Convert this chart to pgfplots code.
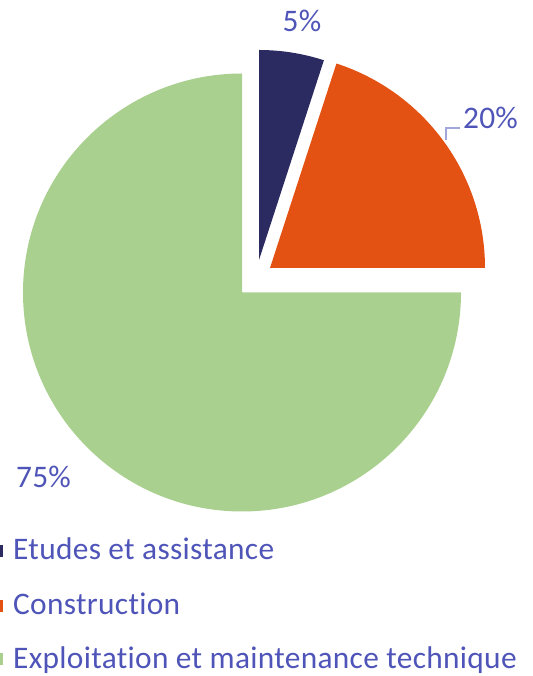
\documentclass[border=0pt]{standalone}
\usepackage{fontspec}
\setmainfont{Carlito}[Ligatures={NoCommon},LetterSpace=1.0]
\usepackage{pgfplots}
\pgfplotsset{compat=1.18}
\definecolor{cBlue}{HTML}{2B2A61}
\definecolor{cOrange}{HTML}{E45213}
\definecolor{cGreen}{HTML}{A9D08E}
\definecolor{cText}{HTML}{4F55B8}
\definecolor{cLead}{HTML}{A3A6DA}
% values (percent)
\def\vA{5}   % Etudes et assistance
\def\vB{20}  % Construction
\def\vC{75}  % Exploitation et maintenance technique
\newcommand\lf{\fontsize{31.5}{36}\selectfont}
\begin{document}
\begin{tikzpicture}
\pgfmathsetmacro\aA{90-3.6*\vA}
\pgfmathsetmacro\aB{\aA-3.6*\vB}
\pgfmathsetmacro\aC{\aB+360}
\begin{axis}[width=533bp,height=676bp,scale only axis,
  xmin=0,xmax=533,ymin=0,ymax=676,hide axis,clip=false]
\addplot[draw=none] coordinates {(0,0) (533,676)};
% slices
\fill[cBlue] (axis cs:259,416) -- ++(\aA:210bp) arc[start angle=\aA,end angle=90,radius=210bp] -- cycle;
\fill[cOrange] (axis cs:270,408) -- ++(\aB:215bp) arc[start angle=\aB,end angle=\aA,radius=215bp] -- cycle;
\fill[cGreen] (axis cs:242,383.5) -- ++(90:219bp) arc[start angle=90,end angle=\aC,radius=219bp] -- cycle;
% labels
\draw[cLead,line width=1.2bp] (axis cs:460,548) -- (axis cs:446,548) -- (axis cs:446,536);
\node[cText,anchor=base,font=\lf,inner sep=0pt] at (axis cs:302,644) {\vA\%};
\node[cText,anchor=base,font=\lf,inner sep=0pt] at (axis cs:490.5,547) {\vB\%};
\node[cText,anchor=base,font=\lf,inner sep=0pt] at (axis cs:43.5,188) {\vC\%};
% legend
\fill[cBlue] (axis cs:0,119) rectangle (axis cs:3,131);
\fill[cOrange] (axis cs:0,64) rectangle (axis cs:3,76);
\fill[cGreen] (axis cs:0,11) rectangle (axis cs:3,23);
\node[cText,anchor=base west,font=\lf,inner sep=0pt] at (axis cs:13,116) {Etudes et assistance};
\node[cText,anchor=base west,font=\lf,inner sep=0pt] at (axis cs:13,61) {Construction};
\node[cText,anchor=base west,font=\lf,inner sep=0pt] at (axis cs:13,8) {Exploitation et maintenance technique};
\end{axis}
\end{tikzpicture}
\end{document}
